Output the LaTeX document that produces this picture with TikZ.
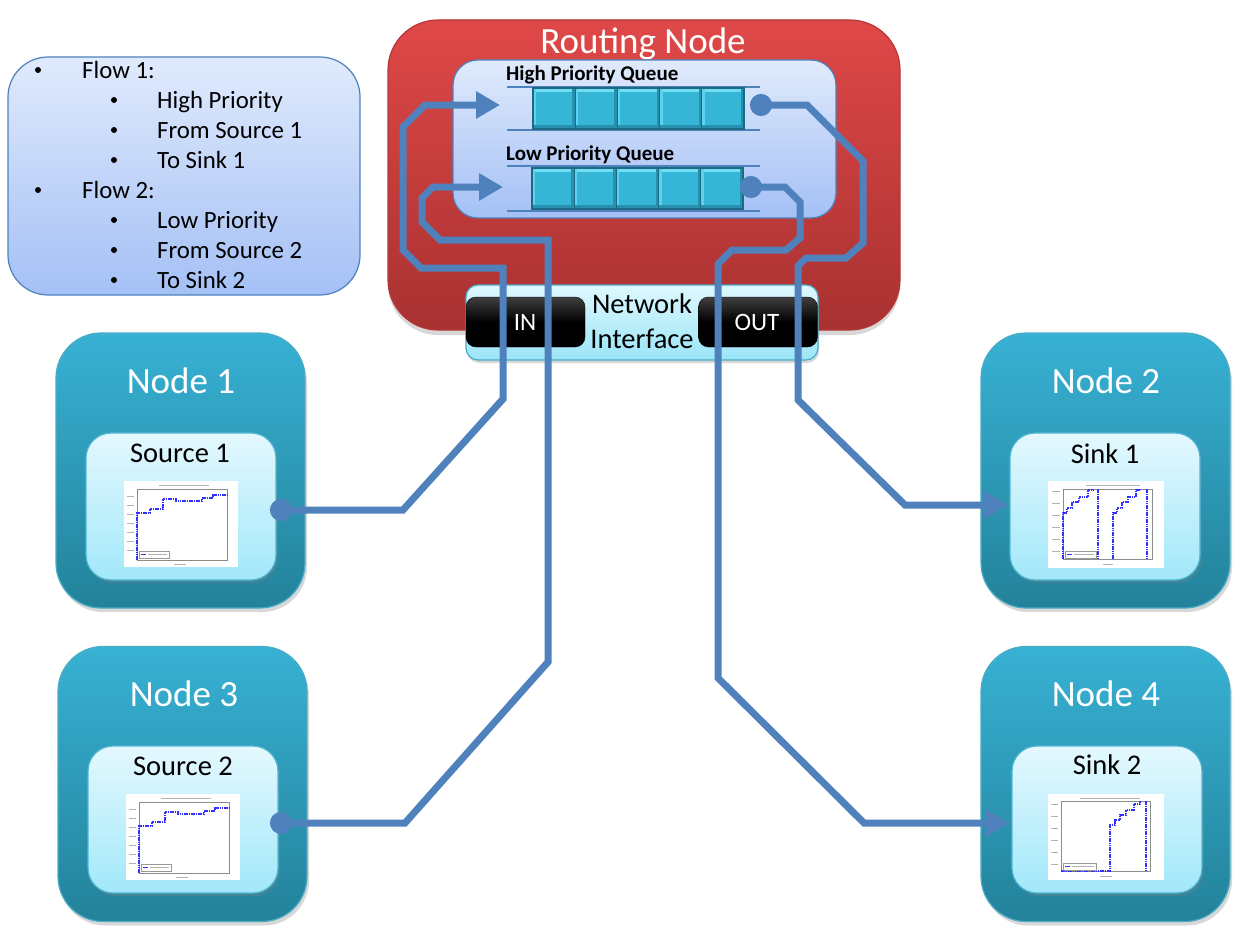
\documentclass[tikz,border=0pt]{standalone}
\usepackage{fontspec}
\setmainfont{Carlito}
\usetikzlibrary{arrows.meta,shadows}
\definecolor{flowblue}{HTML}{4F81BD}
\definecolor{redtop}{HTML}{E04848}
\definecolor{redbot}{HTML}{A83131}
\definecolor{rededge}{HTML}{B83636}
\definecolor{tealtop}{HTML}{38B1D4}
\definecolor{tealbot}{HTML}{23829A}
\definecolor{tealedge}{HTML}{4BACC6}
\definecolor{lighttop}{HTML}{E4F8FE}
\definecolor{lightbot}{HTML}{A2E8FA}
\definecolor{lightedge}{HTML}{4FB6D2}
\definecolor{paneltop}{HTML}{E0EAFC}
\definecolor{panelbot}{HTML}{A4C0F5}
\definecolor{niTop}{HTML}{DDF8FE}
\definecolor{niBot}{HTML}{9BE5F8}
\definecolor{cellmain}{HTML}{36B6D6}
\definecolor{cellhi}{HTML}{72DCF2}
\definecolor{celllo}{HTML}{2690AE}
\definecolor{celledge}{HTML}{1B6A82}
\definecolor{plotblue}{HTML}{3030FF}
\tikzset{
  boxshape/.style={rectangle, inner sep=0pt, line width=1.2pt},
  tealbox/.style={boxshape, rounded corners=45pt, minimum width=249pt, minimum height=275pt,
    top color=tealtop, bottom color=tealbot, draw=tealedge,
    drop shadow={shadow xshift=2pt, shadow yshift=-4pt, opacity=.3}},
  innerbox/.style={boxshape, rounded corners=25pt, minimum width=190pt, minimum height=147pt,
    top color=lighttop, bottom color=lightbot, draw=lightedge,
    drop shadow={shadow xshift=2pt, shadow yshift=-3pt, opacity=.3}},
  bluepanel/.style={boxshape, top color=paneltop, bottom color=panelbot, draw=flowblue},
  cellbox/.style={rectangle, inner sep=0pt, minimum width=42.2pt, minimum height=41pt,
    fill=cellmain, draw=celledge, line width=1.2pt,
    path picture={
      \fill[cellhi] (path picture bounding box.north west) rectangle ([yshift=-4pt]path picture bounding box.north east);
      \fill[cellhi!70!cellmain] (path picture bounding box.north west) rectangle ([xshift=3pt]path picture bounding box.south west);
      \fill[celllo] ([yshift=4pt]path picture bounding box.south west) rectangle (path picture bounding box.south east);
      \fill[celllo] ([xshift=-3pt]path picture bounding box.north east) rectangle (path picture bounding box.south east);
    }},
  blackbox/.style={rectangle, inner sep=0pt, rounded corners=10pt, minimum width=119pt, minimum height=50pt,
    top color=black!75, bottom color=black, draw=black, middle color=black},
  titletxt/.style={inner sep=0pt, anchor=base, text=white, font=\fontsize{37}{44}\selectfont},
  subtxt/.style={inner sep=0pt, anchor=base, text=black, font=\fontsize{28.5}{34}\selectfont},
  legtxt/.style={inner sep=0pt, anchor=base west, font=\fontsize{24.8}{29}\selectfont},
  legbul/.style={fill=black, circle, inner sep=0pt, minimum size=6pt},
  qlabel/.style={inner sep=0pt, anchor=base west, font=\bfseries\fontsize{21}{25}\selectfont},
  qline/.style={draw=flowblue, line width=2pt},
  flow/.style={draw=flowblue, line width=7pt},
  bothends/.style={{Circle[length=22pt]}-{Triangle[length=24pt,width=26pt]}},
  stepline/.style={draw=plotblue, line width=1.1pt, dash pattern=on 1.6pt off 0.7pt},
  plotframe/.style={draw=black!45, line width=.4pt},
  srcplot/.pic={
    \fill[white] (0,0) rectangle (114,86);
    \draw[plotframe] (13,8) rectangle (103,79);
    \draw[black!30, line width=.8pt] (35,4) -- (85,4);
    \draw[black!30, line width=.8pt] (50,83) -- (62,83);
    \foreach \ty in {15,24,33,42,51,60,69} \draw[black!30, line width=.8pt] (3,\ty) -- (10,\ty);
    \draw[stepline] (13,79) -- (13,32) -- (26,32) -- (26,28) -- (39,28) -- (39,18) -- (52,18) -- (52,20) -- (78,20) -- (78,17) -- (89,17) -- (89,14) -- (103,14);
    \draw[black!40, line width=.3pt, fill=white] (15,70) rectangle (45,77);
    \draw[plotblue, line width=.8pt] (17,73.5) -- (22,73.5);
    \draw[black!30, line width=.8pt] (24,73.5) -- (43,73.5);
  },
  sinkoneplot/.pic={
    \fill[white] (0,0) rectangle (116,87);
    \draw[plotframe] (15,8) rectangle (104,78);
    \draw[black!30, line width=.8pt] (38,4) -- (92,4);
    \draw[black!30, line width=.8pt] (55,83) -- (65,83);
    \foreach \ty in {10,22,34,46,58,70} \draw[black!30, line width=.8pt] (4,\ty) -- (12,\ty);
    \draw[stepline] (15,78) -- (15,32) -- (19,32) -- (19,27) -- (24,27) -- (24,21) -- (31,21) -- (31,16) -- (40,16) -- (40,9) -- (45,9) -- (45,8);
    \draw[stepline] (50,8) -- (50,78);
    \draw[stepline] (65,78) -- (65,32) -- (69,32) -- (69,27) -- (74,27) -- (74,21) -- (80,21) -- (80,16) -- (88,16) -- (88,9) -- (92,9) -- (92,8);
    \draw[stepline] (99,8) -- (99,78);
    \draw[black!40, line width=.3pt, fill=white] (17,70) rectangle (48,77);
    \draw[plotblue, line width=.8pt] (19,73.5) -- (24,73.5);
    \draw[black!30, line width=.8pt] (26,73.5) -- (46,73.5);
  },
  sinktwoplot/.pic={
    \fill[white] (0,0) rectangle (116,86);
    \draw[plotframe] (13,7) rectangle (102,77);
    \draw[black!30, line width=.8pt] (32,4) -- (92,4);
    \draw[black!30, line width=.8pt] (52,82) -- (64,82);
    \foreach \ty in {10,22,34,46,58,70} \draw[black!30, line width=.8pt] (3,\ty) -- (10,\ty);
    \draw[stepline] (13,77) -- (62,77) -- (62,31) -- (67,31) -- (67,26) -- (72,26) -- (72,21) -- (78,21) -- (78,16) -- (86,16) -- (86,10) -- (92,10) -- (92,7);
    \draw[stepline] (98,7) -- (98,77);
    \draw[black!40, line width=.3pt, fill=white] (15,69) rectangle (48,76);
    \draw[plotblue, line width=.8pt] (17,72.5) -- (22,72.5);
    \draw[black!30, line width=.8pt] (24,72.5) -- (46,72.5);
  }
}
\begin{document}
\begin{tikzpicture}[x=1pt,y=-1pt]
\useasboundingbox[fill=white] (0,0) rectangle (1239,934);

% ---------- legend ----------
\node[bluepanel, rounded corners=40pt, minimum width=352pt, minimum height=238pt] (legend) at (184,176) {};
\node[legbul] (b1) at (38,70) {};
\node[legtxt] (lg1) at (82,78) {Flow 1:};
\node[legbul] (b2) at (114,100) {};
\node[legtxt] (lg2) at (157,108) {High Priority};
\node[legbul] (b3) at (114,130) {};
\node[legtxt] (lg3) at (157,138) {From Source 1};
\node[legbul] (b4) at (114,160) {};
\node[legtxt] (lg4) at (157,168) {To Sink 1};
\node[legbul] (b5) at (38,190) {};
\node[legtxt] (lg5) at (82,198) {Flow 2:};
\node[legbul] (b6) at (114,220) {};
\node[legtxt] (lg6) at (157,228) {Low Priority};
\node[legbul] (b7) at (114,250) {};
\node[legtxt] (lg7) at (157,258) {From Source 2};
\node[legbul] (b8) at (114,280) {};
\node[legtxt] (lg8) at (157,288) {To Sink 2};

% ---------- routing node ----------
\node[boxshape, rounded corners=50pt, minimum width=512pt, minimum height=310pt,
      top color=redtop, bottom color=redbot, draw=rededge,
      drop shadow={shadow xshift=0pt, shadow yshift=-5pt, opacity=.3}] (router) at (644,175) {};
\node[titletxt] (routertitle) at (643,53) {Routing Node};

\node[bluepanel, rounded corners=25pt, minimum width=383pt, minimum height=158pt] (queues) at (644.5,139) {};
\node[qlabel] (hqlabel) at (506,81) {High Priority Queue};
\node[qlabel] (lqlabel) at (506,160) {Low Priority Queue};

\draw[qline] (507,87) -- (760,87);
\draw[qline] (507,130) -- (760,130);
\draw[qline] (507,166) -- (760,166);
\draw[qline] (507,211) -- (760,211);
\foreach \i in {0,...,4} {
  \node[cellbox] (hq\i) at (554.1+42.2*\i,108.5) {};
  \node[cellbox] (lq\i) at (553.1+42.2*\i,188.5) {};
}

% ---------- network interface ----------
\node[boxshape, rounded corners=12pt, minimum width=352pt, minimum height=75pt,
      top color=niTop, bottom color=niBot, draw=tealedge,
      drop shadow={shadow xshift=1pt, shadow yshift=-3pt, opacity=.3}] (ni) at (642,322.5) {};
\node[blackbox] (inbox) at (525.5,322) {};
\node[blackbox] (outbox) at (758,322) {};
\node[inner sep=0pt, anchor=base, text=white, font=\fontsize{25}{30}\selectfont] (intxt) at (525,330) {IN};
\node[inner sep=0pt, anchor=base, text=white, font=\fontsize{25}{30}\selectfont] (outtxt) at (757,330) {OUT};
\node[subtxt] (nitxt1) at (642,313) {Network};
\node[subtxt] (nitxt2) at (642,348) {Interface};

% ---------- end nodes ----------
\node[tealbox] (node1) at (180.5,470.5) {};
\node[tealbox] (node3) at (182.5,784) {};
\node[tealbox] (node2) at (1105.5,470.5) {};
\node[tealbox] (node4) at (1105.5,784) {};
\node[titletxt] (node1t) at (181,393) {Node 1};
\node[titletxt] (node3t) at (184,706) {Node 3};
\node[titletxt] (node2t) at (1106,393) {Node 2};
\node[titletxt] (node4t) at (1106,706) {Node 4};

\node[innerbox] (src1) at (181,506.5) {};
\node[innerbox] (src2) at (183,819.5) {};
\node[innerbox] (sink1) at (1105,506.5) {};
\node[innerbox] (sink2) at (1107,819.5) {};
\node[subtxt] (src1t) at (180,462) {Source 1};
\node[subtxt] (src2t) at (183,775) {Source 2};
\node[subtxt] (sink1t) at (1105,463) {Sink 1};
\node[subtxt] (sink2t) at (1107,774) {Sink 2};

\pic (plot1) at (124,481) {srcplot};
\pic (plot2) at (126,794) {srcplot};
\pic (plot3) at (1048,481) {sinkoneplot};
\pic (plot4) at (1048,794) {sinktwoplot};

% ---------- connector end points ----------
\coordinate (s1port) at (270,510);
\coordinate (s2port) at (270,823);
\coordinate (hqin) at (500,105);
\coordinate (lqin) at (503,187);
\coordinate (hqout) at (750,105);
\coordinate (lqout) at (740,187);
\coordinate (k1in) at (1008,505);
\coordinate (k2in) at (1010,823);

% ---------- flows ----------
\draw[flow, bothends] (s1port) -- (403,510) -- (503,399) -- (503,268) -- (421,268) -- (403,250)
   -- (403,127) -- (425,105) -- (hqin);
\draw[flow, bothends] (s2port) -- (405,823) -- (548,662) -- (548,240) -- (440,240) -- (422,222)
   -- (422,198) -- (433,187) -- (lqin);
\draw[flow, bothends] (hqout) -- (807,105) -- (863,161) -- (863,243) -- (846,258) -- (806,258)
   -- (798,266) -- (798,400) -- (905,505) -- (k1in);
\draw[flow, bothends] (lqout) -- (785,187) -- (800,202) -- (800,238) -- (786,250) -- (732,250)
   -- (718,264) -- (718,678) -- (864,823) -- (k2in);
\end{tikzpicture}
\end{document}
